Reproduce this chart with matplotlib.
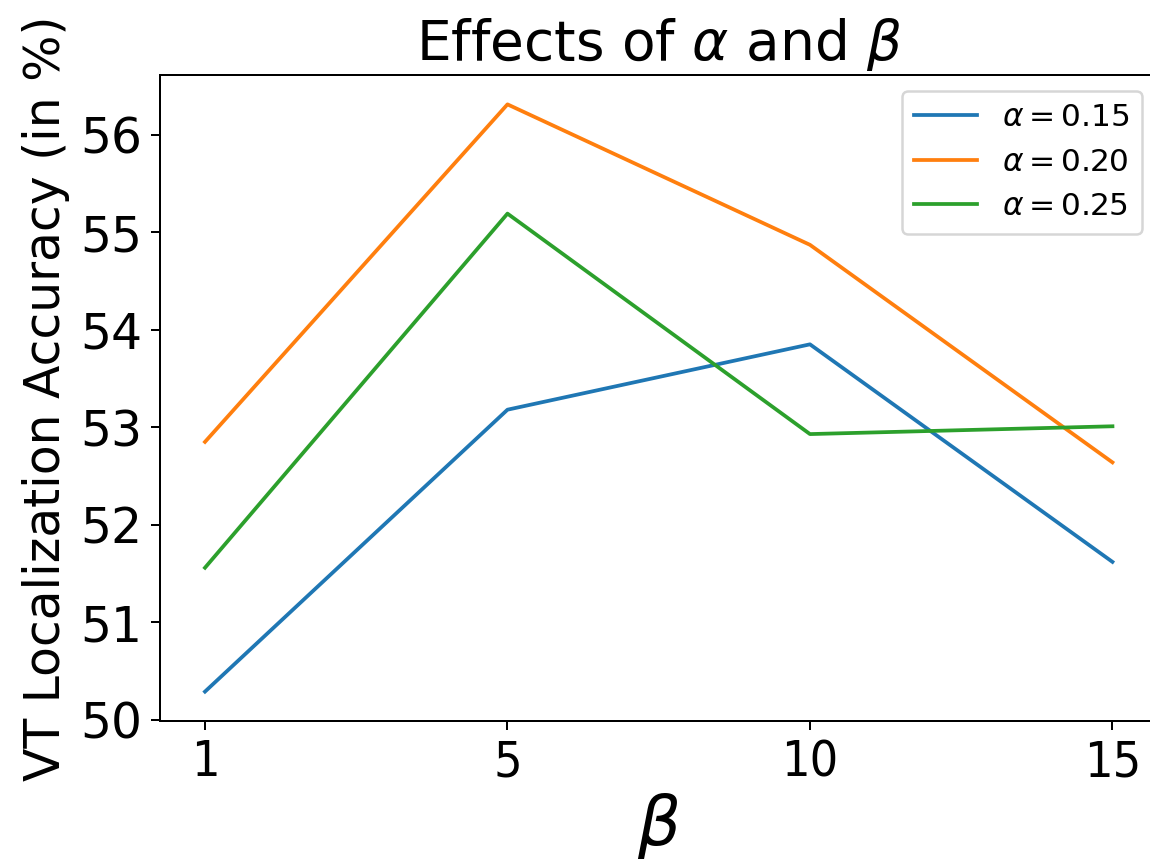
import matplotlib
matplotlib.use('Agg')
import matplotlib.pyplot as plt

# beta values (categorical positions on the x axis)
betas = ['1', '5', '10', '15']
# accuracy (%) for each alpha
acc_a015 = [50.29, 53.18, 53.85, 51.62]
acc_a020 = [52.85, 56.31, 54.87, 52.64]
acc_a025 = [51.56, 55.19, 52.93, 53.01]
labels = [r'$\alpha = 0.15$', r'$\alpha = 0.20$', r'$\alpha = 0.25$']
yticks = [50, 51, 52, 53, 54, 55, 56]

fig = plt.figure(figsize=(1150 / 180, 865 / 180), dpi=180)
ax = fig.add_axes([0.1388, 0.1665, 0.868, 0.7468])

x = range(len(betas))
ax.plot(x, acc_a015, label=labels[0])
ax.plot(x, acc_a020, label=labels[1])
ax.plot(x, acc_a025, label=labels[2])

ax.set_xticks(list(x))
ax.set_xticklabels(betas, fontsize=20, fontstretch='condensed')
ax.set_yticks(yticks)
ax.tick_params(axis='y', labelsize=19.5)
ax.set_xlabel(r'$\beta$', fontsize=27, labelpad=2)
ax.set_ylabel('VT Localization Accuracy (in %)', fontsize=19.5)
ax.set_title(r'Effects of $\alpha$ and $\beta$', fontsize=22)
ax.legend(loc='upper right', fontsize=12.5)

fig.savefig('out.png', dpi=180)
